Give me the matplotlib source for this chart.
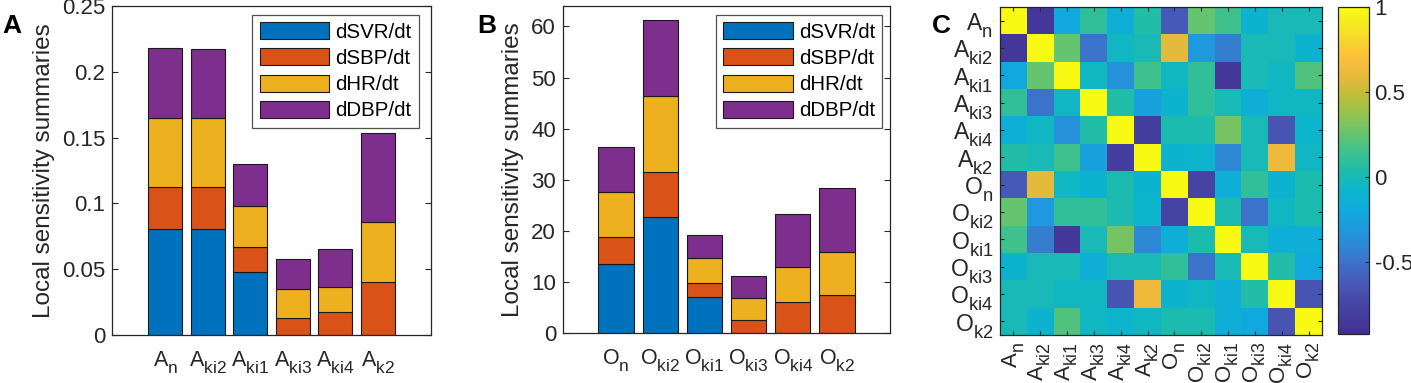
import numpy as np
import matplotlib
matplotlib.use("Agg")
import matplotlib.pyplot as plt
from matplotlib.colors import LinearSegmentedColormap
import matplotlib._mathtext as _mt

# larger, lower subscripts (closer to MATLAB TeX rendering)
try:
    _mt.SHRINK_FACTOR = 0.8
    _mt.FontConstantsBase.sub1 = 0.6
    _mt.FontConstantsBase.sub2 = 0.8
    _mt.FontConstantsBase.subdrop = 0.6
except Exception:
    pass

plt.rcParams['font.family'] = ['Liberation Sans', 'DejaVu Sans']
plt.rcParams['mathtext.fontset'] = 'custom'
plt.rcParams['mathtext.rm'] = 'Liberation Sans'
plt.rcParams['mathtext.it'] = 'Liberation Sans'

# ---------------- data ----------------
series = ["dSVR/dt", "dSBP/dt", "dHR/dt", "dDBP/dt"]
colors = ["#0072BD", "#D95319", "#EDB120", "#7E2F8E"]

a_cats = ["A_{n}", "A_{ki2}", "A_{ki1}", "A_{ki3}", "A_{ki4}", "A_{k2}"]
a_svr = [0.0805, 0.0805, 0.0477, 0.0, 0.0, 0.0]
a_sbp = [0.0320, 0.0318, 0.0191, 0.0129, 0.0173, 0.0406]
a_hr = [0.0525, 0.0527, 0.0314, 0.0221, 0.0190, 0.0449]
a_dbp = [0.0530, 0.0525, 0.0315, 0.0229, 0.0294, 0.0681]

o_cats = ["O_{n}", "O_{ki2}", "O_{ki1}", "O_{ki3}", "O_{ki4}", "O_{k2}"]
o_svr = [13.5, 22.7, 7.1, 0.0, 0.0, 0.0]
o_sbp = [5.3, 8.8, 2.75, 2.6, 6.1, 7.5]
o_hr = [8.7, 14.8, 4.75, 4.2, 6.75, 8.35]
o_dbp = [9.0, 14.9, 4.6, 4.35, 10.5, 12.45]

heat_labels = ["A_{n}", "A_{ki2}", "A_{ki1}", "A_{ki3}", "A_{ki4}", "A_{k2}",
               "O_{n}", "O_{ki2}", "O_{ki1}", "O_{ki3}", "O_{ki4}", "O_{k2}"]
corr = [
    [1.00, -0.85, -0.20, 0.10, -0.15, 0.05, -0.62, 0.25, 0.15, -0.10, 0.00, 0.00],
    [-0.85, 1.00, 0.25, -0.50, -0.05, 0.00, 0.58, -0.30, -0.45, 0.00, 0.00, -0.10],
    [-0.20, 0.25, 1.00, -0.05, -0.35, 0.15, -0.05, 0.10, -0.85, 0.00, -0.05, 0.20],
    [0.10, -0.50, -0.05, 1.00, 0.05, -0.25, -0.10, 0.10, 0.00, -0.15, -0.05, -0.05],
    [-0.15, -0.05, -0.35, 0.05, 1.00, -0.80, 0.02, 0.02, 0.30, 0.00, -0.65, -0.08],
    [0.05, 0.00, 0.15, -0.25, -0.80, 1.00, -0.10, -0.08, -0.40, 0.00, 0.63, -0.05],
    [-0.62, 0.58, -0.05, -0.10, 0.02, -0.10, 1.00, -0.75, -0.15, 0.10, -0.10, 0.02],
    [0.25, -0.30, 0.10, 0.10, 0.02, -0.08, -0.75, 1.00, 0.02, -0.50, -0.05, 0.02],
    [0.15, -0.45, -0.85, 0.00, 0.30, -0.40, -0.15, 0.02, 1.00, 0.00, -0.15, -0.15],
    [-0.10, 0.00, 0.00, -0.15, 0.00, 0.00, 0.10, -0.50, 0.00, 1.00, 0.05, -0.20],
    [0.00, 0.00, -0.05, -0.05, -0.65, 0.63, -0.10, -0.05, -0.15, 0.05, 1.00, -0.65],
    [0.00, -0.10, 0.20, -0.05, -0.08, -0.05, 0.02, 0.02, -0.15, -0.20, -0.65, 1.00],
]

# parula-like colormap (as it appears in the reference)
par_pos = [0.00, 0.08, 0.14, 0.20, 0.26, 0.32, 0.38, 0.44, 0.50, 0.56, 0.62,
           0.68, 0.74, 0.80, 0.85, 0.90, 0.95, 1.00]
par_rgb = [(0.26, 0.19, 0.57), (0.27, 0.26, 0.64), (0.28, 0.33, 0.70),
           (0.25, 0.42, 0.77), (0.19, 0.52, 0.83), (0.12, 0.60, 0.87),
           (0.06, 0.67, 0.87), (0.05, 0.71, 0.80), (0.12, 0.74, 0.67),
           (0.25, 0.76, 0.55), (0.42, 0.77, 0.42), (0.60, 0.76, 0.30),
           (0.78, 0.74, 0.22), (0.93, 0.73, 0.24), (0.99, 0.75, 0.23),
           (0.97, 0.84, 0.17), (0.96, 0.92, 0.12), (0.9769, 0.9839, 0.0805)]
parula = LinearSegmentedColormap.from_list("parula", list(zip(par_pos, par_rgb)))

W, H = 1411, 383
fig = plt.figure(figsize=(W / 100, H / 100), dpi=100)

def px_axes(l, t, r, b):
    return fig.add_axes([l / W, 1 - b / H, (r - l) / W, (b - t) / H])

axcol = '#262626'

def style(ax):
    for s in ax.spines.values():
        s.set_color(axcol)
        s.set_linewidth(0.9)
    ax.tick_params(direction='in', top=True, right=True, colors=axcol,
                   labelcolor='#262626', width=0.8)

def stacked(ax, cats, vals, ylim, yticks, yticklabels, xlim, leg_anchor):
    x = np.arange(1, len(cats) + 1)
    bottom = np.zeros(len(cats))
    handles = []
    for v, c, name in zip(vals, colors, series):
        v = np.asarray(v)
        h = ax.bar(x, v, 0.8, bottom=bottom, color=c, edgecolor='#1a1a1a',
                   linewidth=0.8, label=name, zorder=2)
        handles.append(h)
        bottom = bottom + v
    ax.set_xlim(*xlim)
    ax.set_ylim(*ylim)
    ax.set_yticks(yticks)
    ax.set_yticklabels(yticklabels, fontsize=16)
    ax.set_xticks(x)
    ax.set_xticklabels([r'$\mathregular{%s}$' % c for c in cats], fontsize=15.5)
    style(ax)
    ax.tick_params(axis='y', length=4, pad=5)
    ax.tick_params(axis='x', length=0, pad=11)
    ax.set_ylabel("Local sensitivity summaries", fontsize=17.5, color='#262626',
                  labelpad=5)
    leg = ax.legend(handles=handles, loc='upper right', bbox_to_anchor=leg_anchor,
                    borderaxespad=0, fontsize=14.8, frameon=True, fancybox=False,
                    edgecolor='#262626', handlelength=3.4, handleheight=0.9,
                    handletextpad=0.3, labelspacing=0.32, borderpad=0.35)
    leg.get_frame().set_linewidth(0.9)
    return ax

axA = px_axes(112, 6, 431, 335)
stacked(axA, a_cats, [a_svr, a_sbp, a_hr, a_dbp], (0, 0.25),
        [0, 0.05, 0.1, 0.15, 0.2, 0.25], ["0", "0.05", "0.1", "0.15", "0.2", "0.25"],
        (-0.25, 7.25), (0.9624, 0.9726))

axB = px_axes(563, 6, 890, 333)
stacked(axB, o_cats, [o_svr, o_sbp, o_hr, o_dbp], (0, 64),
        [0, 10, 20, 30, 40, 50, 60], ["0", "10", "20", "30", "40", "50", "60"],
        (-0.2, 7.2), (0.9765, 0.9725))

# heatmap
axC = px_axes(1000, 7, 1322, 335)
M = np.array(corr)
im = axC.imshow(M, cmap=parula, vmin=-0.92, vmax=1.0, aspect='auto',
                interpolation='nearest')
n = len(heat_labels)
axC.set_xticks(np.arange(n))
axC.set_yticks(np.arange(n))
axC.set_xticklabels([r'$\mathregular{%s}$' % s for s in heat_labels],
                    rotation=90, fontsize=16)
axC.set_yticklabels([r'$\mathregular{%s}$' % s for s in heat_labels], fontsize=16.5)
style(axC)
axC.tick_params(length=3, pad=5)

cax = px_axes(1338, 7, 1369, 334)
cb = fig.colorbar(im, cax=cax)
cb.set_ticks([-0.5, 0, 0.5, 1])
cb.set_ticklabels(["-0.5", "0", "0.5", "1"])
cb.outline.set_edgecolor(axcol)
cb.outline.set_linewidth(0.9)
cax.tick_params(direction='in', length=3, labelsize=16, colors=axcol,
                labelcolor='#262626', pad=4)

# panel labels
for x0, lab in [(2, "A"), (477, "B"), (932, "C")]:
    fig.text(x0 / W, 1 - 33 / H, lab, fontsize=19, fontweight='bold',
             va='baseline', ha='left')

fig.savefig("out.png", dpi=100)
